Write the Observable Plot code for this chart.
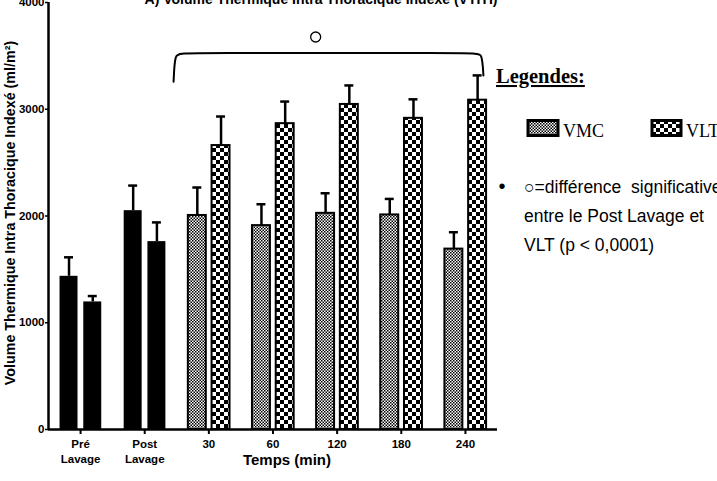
<!DOCTYPE html>
<html><head><meta charset="utf-8">
<script src="https://cdn.jsdelivr.net/npm/d3@7"></script>
<script src="https://cdn.jsdelivr.net/npm/@observablehq/plot@0.6"></script>
<style>
body{margin:0;background:#fff;}
#wrap{position:relative;width:717px;height:481px;overflow:hidden;}
</style></head><body><div id="wrap"></div>
<script>
// ---- data ----
const categories = ["Pré\nLavage", "Post\nLavage", "30", "60", "120", "180", "240"];
const vmc    = [1435, 2050, 2005, 1910, 2025, 2010, 1690];
const vmcErr = [178, 235, 262, 200, 188, 150, 158];
const vlt    = [1195, 1760, 2660, 2865, 3045, 2915, 3085];
const vltErr = [55, 180, 272, 207, 178, 178, 232];
const yTicks = [0, 1000, 2000, 3000, 4000];
const title = "A) Volume Thermique Intra Thoracique Indexé (VTITI)";
const yLabel = "Volume Thermique Intra Thoracique Indexé (ml/m²)";
const xLabel = "Temps (min)";
const legendTitle = "Legendes:";
const seriesNames = ["VMC", "VLT"];
const noteLines = ["○=différence  significative", "entre le Post Lavage et", "VLT (p < 0,0001)"];

// ---- table ----
const off = {VMC: [-0.32, -0.04], VLT: [0.05, 0.33]};
const rows = [];
categories.forEach((c, i) => {
  rows.push({i, s: "VMC", v: vmc[i], e: vmcErr[i]});
  rows.push({i, s: "VLT", v: vlt[i], e: vltErr[i]});
});
rows.forEach(d => { d.x1 = d.i + off[d.s][0]; d.x2 = d.i + off[d.s][1]; d.xc = (d.x1 + d.x2) / 2; d.top = d.v + d.e; });
const pre = rows.filter(d => d.i < 2);
const vmcRows = rows.filter(d => d.i >= 2 && d.s === "VMC");
const vltRows = rows.filter(d => d.i >= 2 && d.s === "VLT");

// bracket anchored on the timed groups
const firstT = 2, lastT = categories.length - 1;
const maxTop = d3.max(rows, d => d.top);
const bTop = maxTop + 210;
const bL = firstT - 0.55, bR = lastT + 0.28;
const bracket = [
  [bL, maxTop - 60], [bL, maxTop - 60], [bL, maxTop - 60], [bL + 0.02, bTop], [bL + 0.12, bTop],
  [bR - 0.12, bTop], [bR - 0.02, bTop], [bR, maxTop], [bR, maxTop], [bR, maxTop]
];

const plot = Plot.plot({
  width: 717, height: 481,
  marginLeft: 48, marginRight: 220, marginTop: 2, marginBottom: 52,
  style: {fontFamily: "'Liberation Sans', Arial, sans-serif", fontSize: "10px", overflow: "visible", background: "white"},
  x: {domain: [-0.5, 6.5], axis: null},
  y: {domain: [0, 4000], axis: null},
  marks: [
    Plot.rectY(pre, {x1: "x1", x2: "x2", y1: 0, y2: "v", fill: "black"}),
    Plot.rectY(vmcRows, {x1: "x1", x2: "x2", y1: 0, y2: "v", fill: "url(#pVMC)", stroke: "black", strokeWidth: 2}),
    Plot.rectY(vltRows, {x1: "x1", x2: "x2", y1: 0, y2: "v", fill: "url(#pVLT)", stroke: "black", strokeWidth: 2}),
    Plot.ruleX(rows, {x: "xc", y1: "v", y2: "top", stroke: "black", strokeWidth: 2.5}),
    Plot.ruleY(rows, {y: "top", x1: d => d.xc - 0.07, x2: d => d.xc + 0.07, stroke: "black", strokeWidth: 2.5}),
    Plot.line(bracket, {x: d => d[0], y: d => d[1], curve: "basis", stroke: "black", strokeWidth: 2}),
    Plot.dot([[(bL + bR) / 2 - 0.2, bTop + 150]], {x: d => d[0], y: d => d[1], r: 5, stroke: "black", strokeWidth: 1.3, fill: "none"}),
    Plot.axisY({ticks: yTicks, tickFormat: d => String(d), tickSize: 3, tickPadding: 1, fontWeight: "bold", fontSize: 11.5, label: null, strokeWidth: 1.5}),
    Plot.axisX({ticks: d3.range(categories.length), tickFormat: i => categories[i], tickSize: 5, tickPadding: 3,
                lineHeight: 1.3, fontWeight: "bold", fontSize: 11.5, label: null, strokeWidth: 2}),
    Plot.ruleX([-0.5], {stroke: "black", strokeWidth: 2.5}),
    Plot.ruleY([0], {stroke: "black", strokeWidth: 2.5}),
    Plot.text([xLabel], {frameAnchor: "bottom", dx: 14, dy: 35, fontSize: 15, fontWeight: "bold"}),
    Plot.text([yLabel], {frameAnchor: "left", textAnchor: "middle", rotate: -90, dx: -38, dy: -3, fontSize: 14.3, fontWeight: "bold"}),
    Plot.text([title], {frameAnchor: "top", dx: 48, dy: 1, lineAnchor: "bottom", fontSize: 14, fontWeight: "bold"})
  ]
});
document.getElementById("wrap").appendChild(plot);

const svg = d3.select(plot);
const defs = svg.insert("defs", ":first-child");
const p1 = defs.append("pattern").attr("id", "pVMC").attr("patternUnits", "userSpaceOnUse").attr("width", 3).attr("height", 3);
p1.append("rect").attr("width", 3).attr("height", 3).attr("fill", "white");
p1.append("rect").attr("width", 1.5).attr("height", 1.5).attr("fill", "black");
p1.append("rect").attr("x", 1.5).attr("y", 1.5).attr("width", 1.5).attr("height", 1.5).attr("fill", "black");
const p2 = defs.append("pattern").attr("id", "pVLT").attr("patternUnits", "userSpaceOnUse").attr("width", 8).attr("height", 8);
p2.append("rect").attr("width", 8).attr("height", 8).attr("fill", "white");
p2.append("rect").attr("width", 4).attr("height", 4).attr("fill", "black");
p2.append("rect").attr("x", 4).attr("y", 4).attr("width", 4).attr("height", 4).attr("fill", "black");

// legend
const lg = svg.append("g").attr("text-anchor", "start");
lg.append("text").attr("x", 496).attr("y", 83).attr("font-family", "'Liberation Serif', serif")
  .attr("font-weight", "bold").attr("font-size", 20.5).attr("text-decoration", "underline").text(legendTitle);
const sw = [{x: 528, w: 30, tx: 563, id: "pVMC"}, {x: 652, w: 29, tx: 686, id: "pVLT"}];
seriesNames.forEach((n, k) => {
  const s = sw[k];
  lg.append("rect").attr("x", s.x).attr("y", 120.5).attr("width", s.w).attr("height", 15)
    .attr("fill", `url(#${s.id})`).attr("stroke", "black").attr("stroke-width", 3);
  lg.append("text").attr("x", s.tx).attr("y", 137).attr("font-family", "'Liberation Serif', serif")
    .attr("font-size", 18).text(n);
});
lg.append("text").attr("x", 502).attr("y", 193).attr("text-anchor", "middle").attr("font-size", 20).attr("font-family", "'Liberation Sans', sans-serif").text("•");
noteLines.forEach((t, k) => {
  lg.append("text").attr("x", 524).attr("y", 193 + k * 29).attr("font-size", 17.5)
    .attr("font-family", "'Liberation Sans', sans-serif").style("white-space", "pre").text(t);
});
</script></body></html>
